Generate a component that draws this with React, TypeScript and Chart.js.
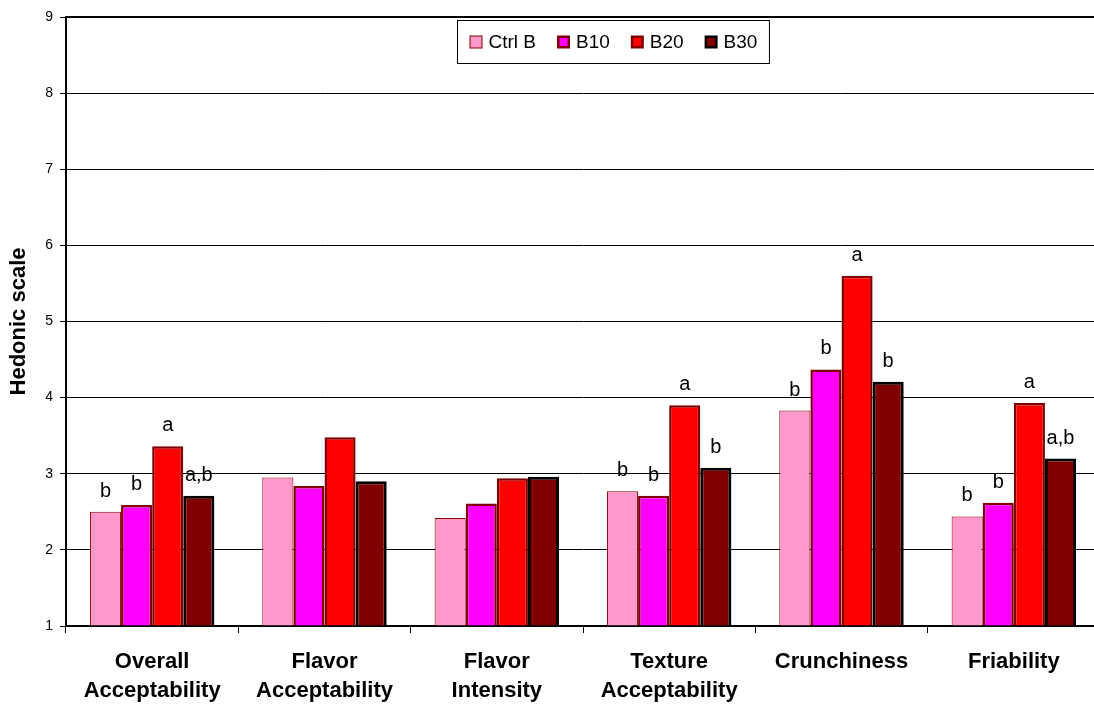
import React, { useEffect, useRef } from "react";
import { Chart, registerables } from "chart.js";

Chart.register(...registerables);

const categories: string[][] = [
  ["Overall", "Acceptability"],
  ["Flavor", "Acceptability"],
  ["Flavor", "Intensity"],
  ["Texture", "Acceptability"],
  ["Crunchiness"],
  ["Friability"],
];

const seriesNames = ["Ctrl B", "B10", "B20", "B30"];

const ctrlB = [2.5, 2.95, 2.42, 2.77, 3.83, 2.44];
const b10 = [2.59, 2.84, 2.61, 2.71, 4.37, 2.62];
const b20 = [3.36, 3.48, 2.94, 3.9, 5.6, 3.93];
const b30 = [2.71, 2.9, 2.96, 3.08, 4.21, 3.2];

const ctrlBLetters = ["b", "", "", "b", "b", "b"];
const b10Letters = ["b", "", "", "b", "b", "b"];
const b20Letters = ["a", "", "", "a", "a", "a"];
const b30Letters = ["a,b", "", "", "b", "b", "a,b"];

const yTicks = [1, 2, 3, 4, 5, 6, 7, 8, 9];

const FONT = "'Liberation Sans', Arial, Helvetica, sans-serif";

const fills = ["#FF99CC", "#FF00FF", "#FF0000", "#800000"];
const borders = ["#800000", "#800000", "#800000", "#000000"];
const borderWidths = [1, 2.5, 2.5, 3];
const letterSets = [ctrlBLetters, b10Letters, b20Letters, b30Letters];

const letterPlugin = {
  id: "letters",
  afterDatasetsDraw(chart: any) {
    const ctx = chart.ctx;
    ctx.save();
    ctx.font = `20px ${FONT}`;
    ctx.fillStyle = "#000";
    ctx.textAlign = "center";
    ctx.textBaseline = "alphabetic";
    chart.data.datasets.forEach((ds: any, i: number) => {
      const meta = chart.getDatasetMeta(i);
      const letters: string[] = ds.letters || [];
      meta.data.forEach((bar: any, j: number) => {
        const t = letters[j];
        if (!t) return;
        ctx.fillText(t, bar.x, bar.y - 15);
      });
    });
    ctx.restore();
  },
};

const frameLegendPlugin = {
  id: "frameLegend",
  afterDraw(chart: any) {
    const ctx = chart.ctx;
    const area = chart.chartArea;
    ctx.save();
    ctx.strokeStyle = "#000";
    ctx.lineWidth = 2;
    ctx.beginPath();
    ctx.moveTo(area.left, area.top);
    ctx.lineTo(area.right, area.top);
    ctx.stroke();

    ctx.font = `19px ${FONT}`;
    const marker = 13;
    const gapMT = 6;
    const gapItems = 21;
    const padX = 12;
    const widths = chart.data.datasets.map((ds: any) => ctx.measureText(ds.label).width);
    let total = padX * 2;
    widths.forEach((w: number, i: number) => {
      total += marker + gapMT + w + (i < widths.length - 1 ? gapItems : 0);
    });
    const cx = 613;
    const bx = Math.round(cx - total / 2) + 0.5;
    const by = 20.5;
    const bh = 43;
    ctx.fillStyle = "#fff";
    ctx.fillRect(bx, by, total, bh);
    ctx.strokeStyle = "#000";
    ctx.lineWidth = 1;
    ctx.strokeRect(bx, by, total, bh);
    let x = bx + padX;
    const my = by + bh / 2;
    chart.data.datasets.forEach((ds: any, i: number) => {
      const bw = Math.min(ds.borderWidth, 2.5);
      ctx.fillStyle = ds.borderColor;
      ctx.fillRect(x, my - marker / 2, marker, marker);
      ctx.fillStyle = ds.backgroundColor;
      ctx.fillRect(x + bw, my - marker / 2 + bw, marker - 2 * bw, marker - 2 * bw);
      x += marker + gapMT;
      ctx.fillStyle = "#000";
      ctx.textAlign = "left";
      ctx.textBaseline = "middle";
      ctx.fillText(ds.label, x, my + 1);
      x += widths[i] + gapItems;
    });
    ctx.restore();
  },
};

export default function App() {
  const ref = useRef<HTMLCanvasElement | null>(null);

  useEffect(() => {
    if (!ref.current) return;
    const seriesValues = [ctrlB, b10, b20, b30];
    const chart = new Chart(ref.current, {
      type: "bar",
      data: {
        labels: categories,
        datasets: seriesValues.map((vals, i) => ({
          label: seriesNames[i],
          data: vals,
          backgroundColor: fills[i],
          borderColor: borders[i],
          borderWidth: borderWidths[i],
          base: 1,
          letters: letterSets[i],
          categoryPercentage: 0.722,
          barPercentage: 1,
        })) as any,
      },
      options: {
        responsive: false,
        animation: false,
        layout: { padding: { left: 0, right: 10, top: 17, bottom: 0 } },
        plugins: {
          legend: { display: false },
          tooltip: { enabled: false },
        },
        scales: {
          x: {
            grid: {
              offset: true,
              drawOnChartArea: false,
              drawTicks: true,
              tickLength: 7,
              tickColor: "#000",
              lineWidth: 1,
            },
            border: { color: "#000", width: 2 },
            ticks: {
              color: "#000",
              font: { family: FONT, size: 22, weight: "bold", lineHeight: 1.3 },
              padding: 15,
              maxRotation: 0,
              autoSkip: false,
            },
            afterFit: (s: any) => {
              s.height = 78;
            },
          },
          y: {
            min: 1,
            max: 9,
            afterBuildTicks: (s: any) => {
              s.ticks = yTicks.map((v) => ({ value: v }));
            },
            grid: {
              color: "#000",
              lineWidth: 1,
              drawTicks: true,
              tickLength: 6,
              tickColor: "#000",
            },
            border: { color: "#000", width: 2 },
            ticks: {
              color: "#000",
              font: { family: FONT, size: 14 },
              padding: 7,
            },
            title: {
              display: true,
              text: "Hedonic scale",
              color: "#000",
              font: { family: FONT, size: 22, weight: "bold" },
              padding: { top: 6, bottom: 0 },
            },
            afterFit: (s: any) => {
              s.width = 66;
            },
          },
        },
      },
      plugins: [letterPlugin, frameLegendPlugin],
    });
    return () => chart.destroy();
  }, []);

  return (
    <div
      style={{
        position: "fixed",
        left: 0,
        top: 0,
        width: 1094,
        height: 704,
        overflow: "hidden",
        background: "#fff",
      }}
    >
      <canvas ref={ref} width={1110} height={704} style={{ width: 1110, height: 704, display: "block" }} />
    </div>
  );
}
